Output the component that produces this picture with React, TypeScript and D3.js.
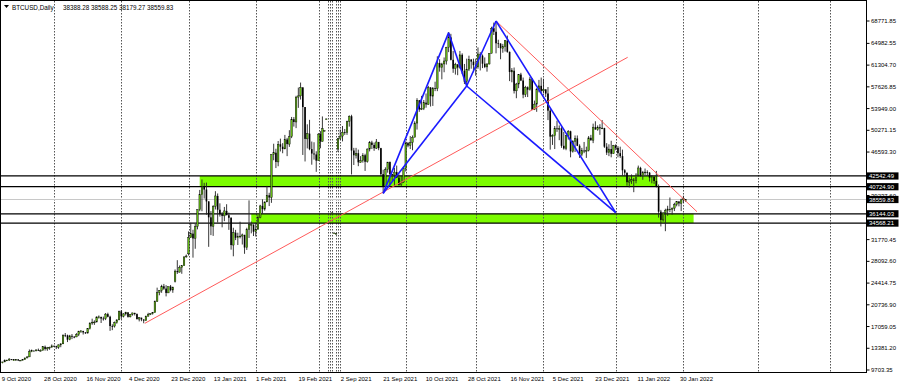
import React from "react";
import * as d3 from "d3";

type Bar = [number, number, number, number]; // open, high, low, close in thousand USD

const oct2020: Bar[] = [
  [10.93,11.10,10.83,11.06],[11.06,11.49,11.06,11.30],[11.30,11.43,11.28,11.38],[11.38,11.70,11.23,11.56],
  [11.56,11.56,11.36,11.43],[11.43,11.54,11.30,11.43],[11.43,11.56,11.29,11.50],[11.50,11.54,11.22,11.32],
  [11.32,11.40,11.29,11.36],[11.36,11.48,11.34,11.48],[11.48,11.80,11.41,11.74],[11.74,12.03,11.69,11.92],
  [11.92,13.18,11.90,12.82],[12.82,13.16,12.72,12.97],[12.97,13.02,12.89,12.93],[12.93,13.15,12.90,13.11],
  [13.11,13.33,12.91,13.03],[13.03,13.20,12.82,13.03],[13.03,13.76,13.02,13.63],[13.63,13.84,12.98,13.27],
  [13.27,13.61,12.95,13.46],[13.46,13.65,13.13,13.56],[13.56,14.03,13.53,13.78],
];
const nov2020: Bar[] = [
  [13.78,13.87,13.64,13.74],[13.74,13.81,13.24,13.55],[13.55,14.03,13.29,13.95],[13.95,14.22,13.56,14.13],
  [14.13,15.74,14.09,15.58],[15.58,15.96,15.27,15.57],[15.57,15.69,14.43,14.83],[14.83,15.65,14.74,15.48],
  [15.48,15.79,14.93,15.33],[15.33,15.46,15.08,15.30],[15.30,15.94,15.27,15.70],[15.70,16.33,15.44,16.28],
  [16.28,16.45,15.99,16.32],[16.32,16.32,15.71,16.07],[16.07,16.11,15.80,15.96],[15.96,16.79,15.88,16.72],
  [16.72,17.76,16.57,17.65],[17.65,18.39,17.35,17.80],[17.80,18.11,17.34,17.82],[17.82,18.77,17.80,18.68],
  [18.68,18.94,18.40,18.70],[18.70,18.70,17.66,18.41],[18.41,18.74,18.06,18.37],[18.37,19.35,18.15,19.16],
  [19.16,19.40,18.62,18.72],[18.72,18.89,16.33,17.15],[17.15,17.44,16.45,17.14],[17.14,17.90,16.89,17.72],
  [17.72,18.28,17.54,18.18],[18.18,19.75,18.18,19.63],
];
const dec2020: Bar[] = [
  [19.63,19.85,18.33,18.80],[18.80,19.31,18.60,19.20],[19.20,19.56,18.93,19.45],[19.45,19.51,18.57,18.70],
  [18.70,19.16,18.60,19.15],[19.15,19.40,18.91,19.36],[19.36,19.40,18.93,19.17],[19.17,19.28,18.25,18.32],
  [18.32,18.63,17.93,18.55],[18.55,18.56,17.96,18.26],[18.26,18.27,17.62,18.06],[18.06,18.92,18.04,18.80],
  [18.80,19.39,18.79,19.14],[19.14,19.30,19.00,19.25],[19.25,19.52,19.08,19.42],[19.42,21.46,19.40,21.31],
  [21.31,23.64,21.25,22.81],[22.81,23.24,22.35,23.14],[23.14,24.13,22.77,23.87],[23.87,24.27,23.27,23.48],
  [23.48,24.06,22.16,22.75],[22.75,23.79,22.74,23.83],[23.83,24.09,23.02,23.24],[23.24,23.80,22.77,23.73],
  [24.71,26.72,24.52,26.44],[26.44,28.29,25.96,26.27],[26.27,27.39,26.21,27.08],[27.08,27.37,25.99,27.36],
  [27.36,28.94,27.36,28.84],[28.84,29.24,28.72,29.00],
];
const jan2021: Bar[] = [
  [29.37,33.16,29.09,32.13],[32.13,34.61,32.05,32.78],[32.78,33.44,28.72,31.97],[31.97,34.44,30.22,33.99],
  [33.99,36.88,33.51,36.82],[36.82,40.18,36.57,39.37],[39.37,41.95,36.57,40.80],[40.80,41.38,38.72,40.25],
  [40.25,41.42,35.98,38.24],[38.24,38.26,30.55,35.54],[35.54,36.60,32.53,34.01],[34.01,37.60,32.40,37.39],
  [37.39,39.97,36.87,39.16],[39.16,39.58,34.66,36.83],[36.83,37.91,35.67,36.07],[36.07,36.43,33.85,35.79],
  [35.79,37.30,34.89,36.63],[36.63,37.76,35.98,35.89],[35.89,36.34,33.42,35.47],[35.47,35.54,30.07,30.85],
  [30.85,33.78,28.95,32.94],[32.94,33.42,31.69,32.08],[32.08,32.94,30.86,32.26],[32.26,34.80,31.98,32.37],
  [32.37,32.79,30.94,32.57],[32.57,32.59,29.37,30.43],[30.43,33.78,30.02,33.47],[33.47,38.41,32.05,34.32],
  [34.32,34.83,32.83,34.32],[34.32,34.32,32.38,33.11],
];
const feb2021: Bar[] = [
  [33.11,34.64,32.30,33.54],[33.54,35.90,33.44,35.51],[35.51,37.66,35.39,37.47],[37.47,38.59,36.16,36.93],
  [36.93,38.23,36.66,38.14],[38.14,40.86,38.14,39.27],[39.27,39.70,37.45,38.90],[38.90,46.20,37.99,46.20],
  [46.20,48.00,45.20,46.48],[46.48,47.15,43.88,44.92],[44.92,48.46,44.19,47.91],[47.91,48.86,46.69,47.50],
  [47.50,48.10,46.39,47.11],[47.11,49.49,47.11,48.72],[48.72,49.00,45.90,47.94],[47.94,50.29,47.47,49.20],
  [49.20,52.53,48.95,52.15],[52.15,52.51,50.90,51.68],[51.68,56.11,50.64,55.89],[55.89,57.50,54.07,56.10],
  [56.10,58.35,55.48,57.54],[57.54,57.53,46.10,54.21],[54.21,54.20,45.00,48.82],[48.82,51.29,47.21,49.71],
  [49.71,52.04,46.90,47.09],[47.09,48.37,44.45,46.34],[46.34,48.25,45.32,46.19],[46.19,46.72,43.24,45.14],
];
const mar2021: Bar[] = [
  [45.14,49.78,45.14,49.63],[49.63,50.13,47.23,48.38],[48.38,52.62,48.38,50.54],
];
const sparse2021: (Bar | null)[] = [
  [50.2,50.25,50.15,50.2],[52.2,52.25,52.15,52.2],null,null,
  [36.3,36.35,36.25,36.3],[32.9,32.95,32.85,32.9],[32.8,32.85,32.75,32.8],
];
const sep2021: Bar[] = [
  [47.1,48.95,46.6,48.85],[48.85,50.4,48.6,49.3],[49.3,51.0,48.4,49.95],[49.95,50.5,49.5,49.9],
  [49.9,51.9,49.5,51.75],[51.75,52.8,50.9,52.65],[52.65,52.9,42.8,46.85],[46.85,47.3,44.4,46.05],
  [46.05,47.3,45.5,46.4],[46.4,47.0,44.2,44.85],[44.85,45.9,44.8,45.15],[45.15,46.4,44.8,46.05],
  [46.05,46.3,43.4,44.95],[44.95,47.2,44.8,47.1],[47.1,48.45,46.7,48.2],[48.2,48.5,47.1,47.8],
  [47.8,48.2,46.8,47.25],[47.25,48.8,47.1,48.3],[48.3,48.3,46.9,47.25],[47.25,47.3,42.5,42.85],
  [42.85,43.6,39.6,40.7],[40.7,44.0,40.6,43.6],[43.6,44.9,43.1,44.9],[44.9,45.0,40.9,42.85],
  [42.85,42.9,41.7,42.7],[42.7,43.9,40.8,43.2],[43.2,44.3,42.2,42.25],[42.25,42.8,40.9,41.05],
  [41.05,42.6,40.8,41.5],[41.5,44.1,41.4,43.8],
];
const oct2021: Bar[] = [
  [43.8,48.4,43.3,48.1],[48.1,48.3,47.4,47.7],[47.7,49.3,47.1,48.2],[48.2,49.4,46.9,49.1],
  [49.1,51.8,49.1,51.5],[51.5,55.7,50.4,55.35],[55.35,55.4,53.4,53.8],[53.8,56.1,53.7,53.95],
  [53.95,55.4,53.7,54.95],[54.95,56.5,54.1,54.65],[54.65,57.8,54.6,57.5],[57.5,57.6,54.3,56.05],
  [56.05,57.6,54.4,57.4],[57.4,58.5,56.9,57.3],[57.3,62.8,56.9,61.65],[61.65,62.3,60.2,60.9],
  [60.9,61.7,58.9,61.5],[61.5,62.6,60.1,62.0],[62.0,64.4,61.4,64.3],[64.3,66.9,63.5,66.0],
  [66.0,66.6,62.1,62.2],[62.2,63.7,60.0,60.7],[60.7,61.7,59.7,61.4],[61.4,61.5,59.6,60.9],
  [60.9,63.7,60.7,63.05],[63.05,63.3,59.8,60.35],[60.35,61.5,58.1,58.5],[58.5,62.4,57.9,60.6],
  [60.6,62.9,60.3,62.25],[62.25,62.3,60.7,61.9],[61.9,62.4,60.1,61.3],
];
const nov2021: Bar[] = [
  [61.3,62.4,59.5,61.0],[61.0,64.3,60.7,63.2],[63.2,63.5,60.4,62.9],[62.9,63.1,60.8,61.55],
  [61.55,62.6,60.8,61.0],[61.0,61.6,60.2,61.5],[61.5,63.3,61.4,63.3],[63.3,67.8,63.3,67.55],
  [67.55,68.5,66.4,66.95],[66.95,68.77185,63.3,65.0],[65.0,65.6,64.2,64.95],[64.95,65.0,62.3,64.15],
  [64.15,64.9,63.4,64.45],[64.45,65.5,63.6,65.45],[65.45,66.3,63.4,63.55],[63.55,63.6,58.6,60.15],
  [60.15,60.8,58.4,60.35],[60.35,60.9,56.5,56.95],[56.95,58.3,55.7,58.1],[58.1,59.8,57.4,59.7],
  [59.7,60.0,58.6,58.7],[58.7,59.2,55.7,56.3],[56.3,57.8,55.9,57.55],[57.55,57.7,55.9,57.15],
  [57.15,59.3,57.0,58.95],[58.95,59.1,53.7,53.75],[53.75,55.3,53.7,54.7],[54.7,57.4,53.4,57.25],
  [57.25,58.8,56.7,57.8],[57.8,59.2,56.6,56.95],
];
const dec2021: Bar[] = [
  [56.95,59.0,56.5,57.2],[57.2,57.2,55.9,56.5],[56.5,57.6,52.0,53.6],[53.6,53.9,47.0,49.2],
  [49.2,49.6,47.8,49.35],[49.35,51.0,47.1,50.6],[50.6,51.9,50.0,50.5],[50.5,51.1,48.6,50.55],
  [50.55,50.8,47.3,47.65],[47.65,50.0,47.0,47.2],[47.2,49.5,46.9,49.4],[49.4,50.3,48.7,50.1],
  [50.1,50.2,45.7,46.7],[46.7,48.6,46.5,48.4],[48.4,49.4,46.6,48.9],[48.9,49.4,47.6,47.65],
  [47.65,47.9,45.6,46.2],[46.2,47.3,45.9,46.85],[46.85,48.3,46.4,46.7],[46.7,47.5,45.6,46.9],
  [46.9,49.3,46.7,49.0],[49.0,49.5,48.5,48.6],[48.6,51.4,48.1,50.8],[50.8,51.8,50.4,50.4],
  [50.4,51.1,50.2,50.8],[50.8,51.3,49.5,50.6],[50.6,52.0,50.5,50.65],[50.65,50.7,47.3,47.5],
  [47.5,48.1,46.1,46.5],[46.5,47.9,45.9,47.1],[47.1,48.5,45.7,46.3],
];
const jan2022: Bar[] = [
  [46.3,47.8,46.3,47.7],[47.7,47.9,46.9,47.3],[47.3,47.6,45.7,46.4],[46.4,47.5,45.6,45.9],
  [45.9,47.0,42.6,43.5],[43.5,43.7,42.5,43.1],[43.1,43.1,40.9,41.5],[41.5,42.3,40.6,41.7],
  [41.7,42.8,41.2,41.9],[41.9,42.2,39.8,41.8],[41.8,43.0,41.3,42.7],[42.7,44.3,42.5,43.9],
  [43.9,44.1,42.4,42.6],[42.6,43.4,41.9,43.1],[43.1,43.8,42.7,43.2],[43.2,43.5,42.6,43.1],
  [43.1,43.2,41.6,42.25],[42.25,42.7,41.3,42.4],[42.4,42.5,41.2,41.7],[41.7,43.4,40.6,40.7],
  [40.7,41.1,35.5,36.5],[36.5,36.8,34.0,35.1],[35.1,36.4,34.8,36.3],[36.3,37.0,33.2,36.7],
  [36.7,37.5,35.8,36.95],[36.95,38.9,36.4,36.85],[36.85,37.2,36.0,37.1],[37.1,38.0,36.6,37.7],
  [37.7,38.3,37.4,38.2],[38.2,38.3,37.4,37.9],[37.9,38.7,36.6,38.5],
];
const feb2022: Bar[] = [
  [38.5,39.2,38.0,38.7],[38.38828,38.58825,38.17927,38.55983],
];

const priceTicks = [68771.85, 64982.55, 61304.70, 57626.85, 53949.00, 50271.15, 46593.30, 39237.60,
  31770.45, 28092.60, 24414.75, 20736.90, 17059.05, 13381.20, 9703.35];
const dateLabels = ["9 Oct 2020","28 Oct 2020","16 Nov 2020","4 Dec 2020","23 Dec 2020","13 Jan 2021",
  "1 Feb 2021","19 Feb 2021","2 Sep 2021","21 Sep 2021","10 Oct 2021","28 Oct 2021","16 Nov 2021",
  "5 Dec 2021","23 Dec 2021","11 Jan 2022","30 Jan 2022"];
const monthSeparators = [23, 53, 83, 113, 141, 146, 147, 148, 150, 151, 152, 181, 212, 242, 274, 304, 337, 369];
const levelPrices = [42542.49, 40724.90, 36144.03, 34568.21];
const bidPrice = 38559.83;
const upperZone = [88, 292.5, 42542.49, 40724.90];
const lowerZone = [111, 308.5, 36144.03, 34568.21];
const patternPoints: Record<string, [number, number]> = {
  X: [171, 39600], A: [200, 66800], B: [208, 57770], C: [221, 68771.85], D: [274, 36330],
};
const patternLegs = [["X","A"],["A","B"],["B","C"],["C","D"],["X","B"],["B","D"]];
const redLines: [number, number][][] = [
  [[63.5, 17600], [279.3, 62630]],
  [[221, 68771.85], [310, 36490]],
];
const header = ["BTCUSD,Daily", "38388.28 38588.25 38179.27 38559.83"];

const W = 900, H = 386;
const PR = 866.5, PB = 372.5;

export default function App() {
  const bars: (Bar | null)[] = [
    ...oct2020, ...nov2020, ...dec2020, ...jan2021, ...feb2021, ...mar2021,
    ...sparse2021,
    ...sep2021, ...oct2021, ...nov2021, ...dec2021, ...jan2022, ...feb2022,
  ];
  const x = d3.scaleLinear().domain([0, 141, 151, 305]).range([2.5, 318.5, 338, 685.7]);
  const y = d3.scaleLinear().domain([9703.35, 68771.85]).range([370, 21]);
  const labelX = d3.scalePoint<string>().domain(dateLabels).range([1.7, 680]);
  const font = "'Liberation Sans', Arial, sans-serif";
  const bw = 1.6;

  const zoneRect = (z: number[], key: string) => (
    <rect key={key} x={x(z[0])} y={y(z[2])} width={x(z[1]) - x(z[0])} height={y(z[3]) - y(z[2])} fill="#7cfc00" />
  );

  return (
    <div>
      <style>{"body{margin:0}"}</style>
      <svg width={W} height={H} style={{ display: "block", background: "#fff" }}>
        {zoneRect(upperZone, "zu")}
        {zoneRect(lowerZone, "zl")}
        {monthSeparators.map((i, k) => (
          <line key={"s" + k} x1={Math.round(x(i)) + 0.5} x2={Math.round(x(i)) + 0.5} y1={1} y2={PB}
            stroke="#555" strokeWidth={1} strokeDasharray="1.5,1.5" />
        ))}
        <line x1={0} x2={PR} y1={y(bidPrice)} y2={y(bidPrice)} stroke="#c8c8c8" strokeWidth={1} />
        {levelPrices.map((p, k) => (
          <line key={"l" + k} x1={0} x2={PR} y1={y(p)} y2={y(p)} stroke="#000" strokeWidth={1.3} />
        ))}
        {bars.map((b, i) => {
          if (!b) return null;
          const [o, h, l, c] = b.map((v) => v * 1000);
          const cx = x(i);
          const up = c >= o;
          const top = y(Math.max(o, c));
          const bh = Math.max(0.8, Math.abs(y(o) - y(c)));
          return (
            <g key={"b" + i}>
              <line x1={cx} x2={cx} y1={y(h)} y2={y(l)} stroke="#222" strokeWidth={0.9} />
              <rect x={cx - bw / 2} y={top} width={bw} height={bh}
                fill={up ? "#62b812" : "#000"} stroke="#000" strokeWidth={up ? 0.4 : 0} />
            </g>
          );
        })}
        {redLines.map((seg, k) => (
          <line key={"r" + k} x1={x(seg[0][0])} y1={y(seg[0][1])} x2={x(seg[1][0])} y2={y(seg[1][1])}
            stroke="#ff5a5a" strokeWidth={1} />
        ))}
        {patternLegs.map(([a, b], k) => (
          <line key={"p" + k} x1={x(patternPoints[a][0])} y1={y(patternPoints[a][1])}
            x2={x(patternPoints[b][0])} y2={y(patternPoints[b][1])} stroke="#1a1aff" strokeWidth={1.6} />
        ))}
        <rect x={0.5} y={0.5} width={PR - 0.5} height={PB - 0.5} fill="none" stroke="#000" strokeWidth={1} />
        <polygon points="4,5 9,5 6.5,8" fill="#000" />
        <text x={12} y={9.5} fontSize={6.3} fontFamily={font} fill="#000">{header[0]}</text>
        <text x={63} y={9.5} fontSize={6.3} fontFamily={font} fill="#000">{header[1]}</text>
        {priceTicks.map((p, k) => (
          <g key={"t" + k}>
            <line x1={PR} x2={PR + 3} y1={y(p)} y2={y(p)} stroke="#000" strokeWidth={1} />
            <text x={871} y={y(p)} dy="0.35em" fontSize={6} fontFamily={font} fill="#000">
              {p.toFixed(2)}
            </text>
          </g>
        ))}
        {[...levelPrices.slice(0, 2), bidPrice, ...levelPrices.slice(2)].map((p, k) => (
          <g key={"bx" + k}>
            <rect x={PR} y={y(p) - 3.6} width={32} height={7.2} fill="#000" />
            <text x={869} y={y(p)} dy="0.35em" fontSize={6} fontFamily={font} fill="#fff">
              {p.toFixed(2)}
            </text>
          </g>
        ))}
        {dateLabels.map((d, k) => (
          <text key={"d" + k} x={labelX(d)} y={380.5} fontSize={6} fontFamily={font} fill="#000">{d}</text>
        ))}
      </svg>
    </div>
  );
}
